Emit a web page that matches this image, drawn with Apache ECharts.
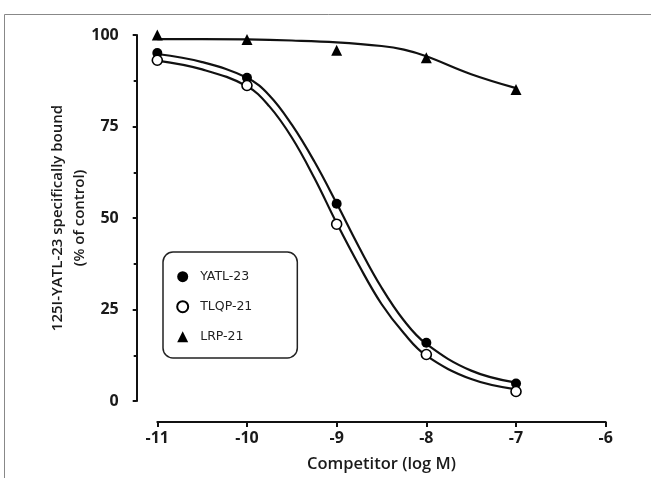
<!DOCTYPE html>
<html>
<head>
<meta charset="utf-8">
<script src="https://cdn.jsdelivr.net/npm/echarts@6/dist/echarts.min.js"></script>
<style>
html,body{margin:0;padding:0;background:#fff;}
#chart{width:651px;height:478px;}
</style>
</head>
<body>
<div id="chart"></div>
<script>
// Measured points (log M, % of control)
const xPoints = [-11, -10, -9, -8, -7];
const yatl23 = [95.1, 88.3, 53.9, 15.9, 4.8];
const tlqp21 = [93.1, 86.2, 48.3, 12.7, 2.6];
const lrp21 = [100.0, 98.8, 95.8, 93.8, 85.1];

// Fitted curves
const fitX = [-11, -10.5, -10, -9.75, -9.5, -9.25, -9, -8.75, -8.5, -8.25, -8, -7.5, -7];
const yatlFit = [94.8, 92.6, 88.3, 83.5, 75.5, 65.5, 54.0, 42.0, 31.0, 22.0, 15.6, 8.3, 5.0];
const tlqpFit = [93.0, 90.6, 86.0, 80.5, 72.0, 61.0, 48.6, 37.0, 26.5, 18.5, 12.4, 6.0, 3.2];
const lrpFitX = [-11, -10.5, -10, -9.5, -9, -8.5, -8.25, -8, -7.5, -7];
const lrpFit = [98.9, 98.9, 98.8, 98.5, 98.0, 97.0, 96.0, 94.2, 89.3, 85.5];

const xTicks = [-11, -10, -9, -8, -7, -6];
const yTicks = [0, 25, 50, 75, 100];

const xAxisTitle = 'Competitor (log M)';
const yAxisTitle = '125I-YATL-23 specifically bound\n(% of control)';
const names = ['YATL-23', 'TLQP-21', 'LRP-21'];

const pair = (xs, ys) => xs.map((x, i) => [x, ys[i]]);

const ink = '#111';
const tickFont = {fontFamily: 'Open Sans', fontSize: 16, fontWeight: 'bold', color: '#1a1a1a'};
const titleFont = {fontFamily: 'Open Sans', fontWeight: 600, color: '#1a1a1a'};

const chart = echarts.init(document.getElementById('chart'));
chart.setOption({
  animation: false,
  backgroundColor: '#fff',
  graphic: [{
    type: 'rect', left: 2, top: 12, z: -1,
    shape: {width: 700, height: 520},
    style: {fill: 'none', stroke: '#888', lineWidth: 1}
  }],
  grid: {left: 157.3, right: 45.3, top: 35, bottom: 74.7},
  xAxis: {
    type: 'value', min: xTicks[0], max: xTicks[xTicks.length - 1], interval: 1,
    offset: 21,
    axisLine: {show: true, onZero: false, lineStyle: {color: ink, width: 2}},
    axisTick: {show: true, length: 5, lineStyle: {color: ink, width: 2}},
    axisLabel: Object.assign({margin: 8}, tickFont),
    splitLine: {show: false},
    name: xAxisTitle, nameLocation: 'middle', nameGap: 34, nameMoveOverlap: false,
    nameTextStyle: Object.assign({fontSize: 16.5}, titleFont)
  },
  yAxis: {
    type: 'value', min: yTicks[0], max: yTicks[yTicks.length - 1], interval: 25,
    offset: 20.6,
    axisLine: {show: true, lineStyle: {color: ink, width: 2}},
    axisTick: {show: true, length: 4, lineStyle: {color: ink, width: 2}},
    minorTick: {show: true, splitNumber: 2, length: 3, lineStyle: {color: ink, width: 2}},
    axisLabel: Object.assign({margin: 18}, tickFont),
    splitLine: {show: false},
    name: yAxisTitle, nameLocation: 'middle', nameGap: 46, nameRotate: 90, nameMoveOverlap: false,
    nameTextStyle: Object.assign({fontSize: 15, lineHeight: 22, align: 'center'}, titleFont)
  },
  legend: {
    orient: 'vertical', left: 163, top: 252,
    data: names,
    itemWidth: 11, itemHeight: 11, itemGap: 16,
    padding: [17.7, 45, 14.3, 13.2],
    borderColor: '#222', borderWidth: 1.5, borderRadius: 10,
    textStyle: {fontFamily: 'DejaVu Sans', fontSize: 12.5, color: '#222', lineHeight: 14, padding: [0, 0, 0, 7]}
  },
  series: [
    {type: 'line', data: pair(fitX, yatlFit), smooth: 0.4, symbol: 'none',
      lineStyle: {color: ink, width: 2.2}, z: 2, silent: true},
    {type: 'line', data: pair(fitX, tlqpFit), smooth: 0.4, symbol: 'none',
      lineStyle: {color: ink, width: 2.2}, z: 2, silent: true},
    {type: 'line', data: pair(lrpFitX, lrpFit), smooth: 0.4, symbol: 'none',
      lineStyle: {color: ink, width: 2.2}, z: 2, silent: true},
    {name: names[0], type: 'scatter', data: pair(xPoints, yatl23), symbol: 'circle', symbolSize: 10,
      itemStyle: {color: '#000', opacity: 1}, z: 5},
    {name: names[1], type: 'scatter', data: pair(xPoints, tlqp21), symbol: 'circle', symbolSize: 10,
      itemStyle: {color: '#fff', borderColor: '#000', borderWidth: 1.6, opacity: 1}, z: 5},
    {name: names[2], type: 'scatter', data: pair(xPoints, lrp21), symbol: 'triangle', symbolSize: 11,
      itemStyle: {color: '#000', opacity: 1}, z: 5}
  ]
});
</script>
</body>
</html>
